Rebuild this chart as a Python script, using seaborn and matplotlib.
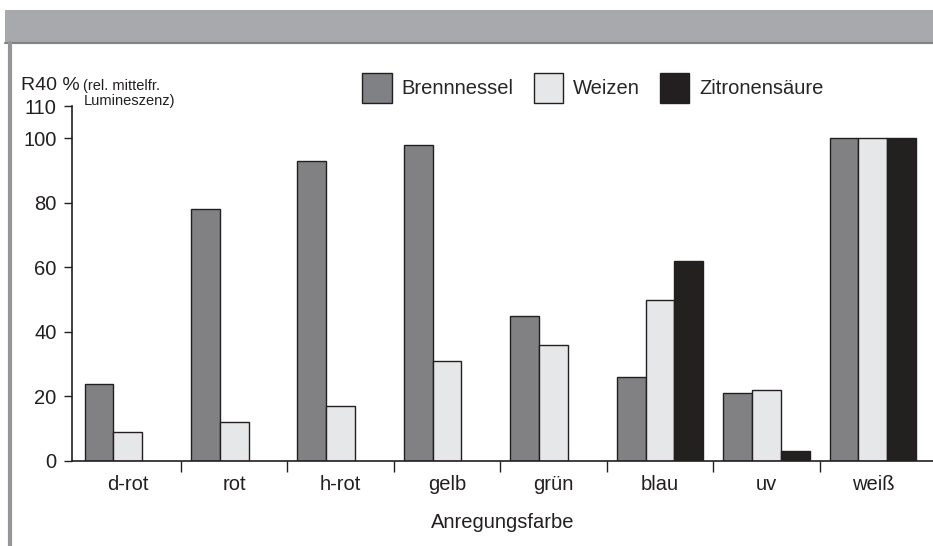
import numpy as np
import pandas as pd
import matplotlib
matplotlib.use("Agg")
import matplotlib.pyplot as plt
from matplotlib.patches import Rectangle, Patch
from matplotlib.lines import Line2D
import seaborn as sns

categories = ["d-rot", "rot", "h-rot", "gelb", "grün", "blau", "uv", "weiß"]
brennnessel = [24, 78, 93, 98, 45, 26, 21, 100]
weizen = [9, 12, 17, 31, 36, 50, 22, 100]
zitronensaeure = [None, None, None, None, None, 62, 3, 100]
series_names = ["Brennnessel", "Weizen", "Zitronensäure"]
y_ticks = [0, 20, 40, 60, 80, 100, 110]

colors = {"Brennnessel": "#808184", "Weizen": "#e6e7e8", "Zitronensäure": "#231f20"}

rows = []
for name, vals in zip(series_names, [brennnessel, weizen, zitronensaeure]):
    for c, v in zip(categories, vals):
        if v is not None:
            rows.append({"Anregungsfarbe": c, "Serie": name, "Wert": v})
df = pd.DataFrame(rows)

sns.set_theme(style="white")
FONT = ["Liberation Sans", "DejaVu Sans"]
plt.rcParams["font.family"] = FONT

W, H = 933, 546
fig = plt.figure(figsize=(W / 100, H / 100), dpi=100)
fig.patch.set_facecolor("white")

# header bar and left border
fig.patches.append(Rectangle((5 / W, 1 - 43 / H), 1, 33 / H, transform=fig.transFigure,
                             facecolor="#a7a9ac", edgecolor="none", zorder=0))
fig.lines.append(Line2D([5 / W, 1], [1 - 43 / H, 1 - 43 / H], transform=fig.transFigure,
                        color="#808184", lw=1.5))
fig.lines.append(Line2D([9.5 / W, 9.5 / W], [0, 1 - 43 / H], transform=fig.transFigure,
                        color="#939598", lw=3))

ax = fig.add_axes([72 / W, 85 / H, (933 - 72) / W, 355 / H])
sns.barplot(data=df, x="Anregungsfarbe", y="Wert", hue="Serie", order=categories,
            hue_order=series_names, palette=colors, width=0.81, gap=0,
            edgecolor="#231f20", linewidth=1.0, ax=ax, legend=False)

ax.set_xlim(-0.523, 7.565)
ax.set_ylim(0, 110)
ax.set_yticks(y_ticks)
ax.tick_params(axis="y", direction="out", length=6, width=1, color="#231f20",
               labelsize=14.5, pad=5, left=True)
ax.set_xticks(range(len(categories)))
ax.set_xticklabels(categories)
ax.set_xticks(np.arange(0.5, len(categories) - 1, 1), minor=True)
ax.tick_params(axis="x", which="major", length=0, labelsize=14.5, pad=10)
ax.tick_params(axis="x", which="minor", direction="out", length=8, width=1,
               color="#231f20", bottom=True)
for s in ["top", "right"]:
    ax.spines[s].set_visible(False)
for s in ["left", "bottom"]:
    ax.spines[s].set_color("#231f20")
    ax.spines[s].set_linewidth(1.2)
ax.set_ylabel("")
ax.set_xlabel("Anregungsfarbe", fontsize=14.5, labelpad=14, color="#231f20")
for t in ax.get_xticklabels() + ax.get_yticklabels():
    t.set_color("#231f20")

# y-axis title
fig.text(80 / W, 1 - 85 / H, "R40 %", fontsize=14, ha="right", va="center", color="#231f20")
fig.text(83 / W, 1 - 86 / H, "(rel. mittelfr.", fontsize=10.5, ha="left", va="center", color="#231f20")
fig.text(84 / W, 1 - 101 / H, "Lumineszenz)", fontsize=10.5, ha="left", va="center", color="#231f20")

handles = [Patch(facecolor=colors[n], edgecolor="#231f20", linewidth=1.0) for n in series_names]
fig.legend(handles, series_names, loc="center", bbox_to_anchor=(593 / W, 1 - 88 / H), ncol=3,
           frameon=False, fontsize=14.5, handlelength=1.45, handleheight=1.85,
           handletextpad=0.5, columnspacing=1.0)

fig.savefig("out.png", dpi=100)
